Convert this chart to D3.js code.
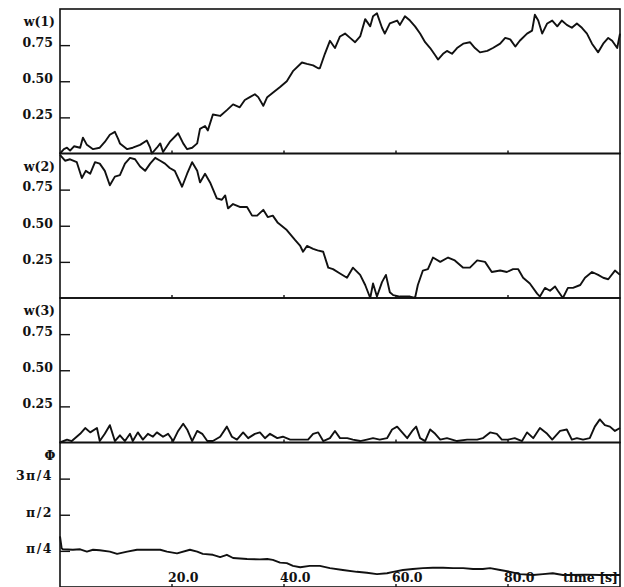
<!DOCTYPE html>
<meta charset="utf-8">
<style>
body { margin: 0; background: #fff; }
text { font: bold 12.5px "DejaVu Serif", serif; fill: #111; }
.frame { fill: none; stroke: #111; stroke-width: 1.6; }
.trace { fill: none; stroke: #111; stroke-width: 1.9; stroke-linejoin: round; }
.axis line { stroke: #111; stroke-width: 1.4; }
.axis path { display: none; }
.pi text { letter-spacing: 1.5px; }
</style>
<svg width="624" height="587"></svg>
<script src="https://d3js.org/d3.v7.min.js"></script>
<script>

// time [s], value
var w1 = [[0,0.0],[0.7,0.03],[1.25,0.04],[1.8,0.02],[2.5,0.05],[3.6,0.04],[4.1,0.11],[4.8,0.06],[5.9,0.03],
  [7.1,0.04],[8.0,0.08],[8.9,0.13],[9.8,0.15],[10.4,0.1],[10.7,0.07],[12.0,0.03],[13.0,0.04],[14.3,0.06],
  [15.5,0.09],[16.1,0.04],[16.4,0.0],[17.3,0.04],[17.9,0.07],[18.4,0.01],[19.6,0.08],[21.1,0.14],[22.0,0.07],
  [22.7,0.03],[23.6,0.04],[24.5,0.07],[25.0,0.17],[25.9,0.19],[26.4,0.16],[27.3,0.27],[28.6,0.26],[29.8,0.30],
  [30.9,0.34],[32.1,0.32],[33.0,0.37],[33.9,0.39],[34.8,0.41],[35.4,0.39],[36.3,0.33],[37.0,0.39],[38.0,0.42],
  [39.3,0.46],[40.5,0.50],[41.6,0.57],[43.2,0.63],[44.1,0.62],[45.2,0.61],[46.1,0.59],[46.4,0.59],[47.3,0.69],
  [48.2,0.78],[49.1,0.73],[50.0,0.81],[50.9,0.83],[51.8,0.80],[52.7,0.77],[53.6,0.81],[54.5,0.93],[55.4,0.88],
  [55.9,0.95],[56.6,0.97],[57.5,0.87],[58.0,0.83],[58.9,0.90],[60.2,0.92],[60.7,0.89],[61.6,0.95],[62.5,0.92],
  [63.4,0.88],[64.3,0.83],[65.2,0.77],[66.1,0.73],[67.0,0.68],[67.5,0.65],[68.4,0.69],[69.1,0.71],[70.0,0.69],
  [70.9,0.73],[72.0,0.76],[73.2,0.77],[74.1,0.73],[75.0,0.70],[76.3,0.71],[77.3,0.73],[78.6,0.76],[79.5,0.80],
  [80.4,0.79],[81.3,0.74],[82.1,0.78],[83.4,0.83],[84.3,0.85],[84.8,0.96],[85.4,0.92],[86.1,0.83],[87.0,0.90],
  [87.9,0.92],[88.8,0.88],[89.6,0.92],[90.5,0.89],[91.4,0.87],[92.3,0.90],[93.2,0.87],[94.1,0.83],[95.0,0.76],
  [96.1,0.70],[97.0,0.76],[97.9,0.80],[98.6,0.78],[99.5,0.73],[100,0.83]]

var w2 = [[0,0.99],[0.9,0.95],[1.8,0.96],[3.0,0.94],[3.9,0.83],[4.6,0.88],[5.4,0.86],[6.25,0.94],[7.1,0.93],
  [8.0,0.88],[8.9,0.78],[9.8,0.84],[10.7,0.85],[11.6,0.93],[12.5,0.97],[13.4,0.96],[14.3,0.91],[15.2,0.88],
  [16.1,0.93],[17.0,0.97],[17.9,0.95],[18.75,0.93],[19.6,0.90],[20.5,0.88],[21.8,0.77],[22.7,0.86],[23.6,0.94],
  [24.5,0.88],[25.0,0.80],[25.9,0.86],[26.8,0.80],[28.0,0.69],[28.9,0.68],[29.5,0.71],[30.0,0.62],[30.9,0.65],
  [32.1,0.63],[33.4,0.63],[34.3,0.57],[35.2,0.57],[36.3,0.61],[37.1,0.56],[38.0,0.57],[38.9,0.52],[40.5,0.47],
  [42.0,0.40],[42.9,0.36],[43.4,0.32],[44.1,0.36],[45.2,0.34],[46.0,0.33],[47.0,0.32],[47.9,0.21],[48.75,0.20],
  [50.0,0.17],[51.25,0.14],[52.3,0.21],[53.6,0.16],[54.5,0.09],[55.4,0.0],[55.9,0.10],[56.6,0.01],[57.5,0.11],
  [58.2,0.16],[58.9,0.04],[59.5,0.02],[60.7,0.01],[62.5,0.01],[63.4,0.0],[63.9,0.09],[64.8,0.19],[65.7,0.20],
  [66.6,0.28],[67.9,0.25],[69.3,0.28],[70.5,0.26],[72.0,0.21],[73.2,0.21],[74.5,0.26],[75.9,0.25],[77.1,0.18],
  [78.6,0.19],[79.8,0.18],[80.9,0.20],[81.8,0.20],[82.7,0.14],[83.9,0.10],[85.2,0.03],[85.7,0.01],[86.6,0.07],
  [87.5,0.05],[88.4,0.08],[88.9,0.05],[89.8,0.0],[90.7,0.07],[91.6,0.07],[92.9,0.09],[93.75,0.14],[95.0,0.18],
  [96.1,0.16],[97.0,0.14],[97.9,0.13],[99.1,0.19],[100,0.16]]

var w3 = [[0,0.0],[1.25,0.02],[2.1,0.01],[3.6,0.06],[4.5,0.10],[5.4,0.07],[6.6,0.10],[7.1,0.01],[8.0,0.06],
  [8.9,0.12],[9.8,0.01],[10.7,0.05],[11.6,0.01],[12.5,0.06],[13.0,0.01],[13.9,0.07],[14.8,0.02],[15.7,0.06],
  [16.6,0.04],[17.3,0.07],[18.4,0.04],[19.3,0.06],[20.2,0.01],[21.1,0.08],[22.0,0.13],[22.7,0.09],[23.6,0.01],
  [24.5,0.08],[25.4,0.06],[26.3,0.01],[27.3,0.01],[28.6,0.04],[29.8,0.11],[30.7,0.04],[31.6,0.02],[32.7,0.07],
  [33.6,0.03],[34.8,0.06],[35.7,0.07],[36.6,0.03],[37.5,0.06],[38.8,0.03],[39.8,0.04],[41.1,0.02],[42.3,0.02],
  [43.2,0.02],[44.3,0.02],[45.2,0.06],[46.1,0.07],[47.0,0.01],[48.2,0.03],[49.1,0.08],[50.0,0.03],[51.3,0.03],
  [52.3,0.02],[53.6,0.01],[54.8,0.02],[55.9,0.03],[57.1,0.02],[58.4,0.03],[59.3,0.09],[60.2,0.11],[61.1,0.07],
  [62.0,0.03],[62.9,0.08],[63.6,0.11],[64.3,0.03],[65.2,0.01],[66.1,0.09],[67.0,0.06],[67.9,0.02],[69.1,0.03],
  [70.9,0.01],[72.7,0.02],[74.5,0.02],[75.5,0.03],[76.8,0.07],[78.0,0.06],[78.9,0.02],[80.0,0.02],[81.2,0.03],
  [82.5,0.01],[83.4,0.07],[84.5,0.03],[85.7,0.10],[87.0,0.06],[87.9,0.02],[89.3,0.08],[90.5,0.09],[91.4,0.02],
  [92.3,0.03],[93.4,0.02],[94.6,0.03],[95.5,0.11],[96.4,0.16],[97.3,0.12],[98.2,0.11],[99.1,0.08],[100,0.10]]

var phi = [[0,1.10],[0.3,0.84],[0.5,0.82],[2.3,0.81],[3.6,0.82],[4.8,0.77],[5.9,0.81],[7.1,0.80],[8.9,0.77],
  [10.2,0.72],[12.0,0.77],[13.75,0.81],[15.5,0.81],[17.9,0.81],[19.1,0.77],[20.9,0.73],[23.2,0.81],[24.5,0.77],
  [25.5,0.72],[27.3,0.70],[28.6,0.65],[29.8,0.70],[30.9,0.63],[33.4,0.61],[35.7,0.60],[37.0,0.61],[38.0,0.59],
  [39.3,0.53],[40.5,0.52],[41.6,0.46],[42.9,0.43],[44.6,0.46],[46.4,0.46],[48.2,0.41],[50.5,0.37],[53.0,0.33],
  [54.8,0.31],[56.6,0.28],[58.4,0.30],[59.5,0.33],[61.25,0.37],[63.0,0.39],[64.8,0.41],[66.6,0.42],[68.4,0.42],
  [70.2,0.41],[72.0,0.41],[73.75,0.39],[75.5,0.39],[76.8,0.41],[78.6,0.37],[80.4,0.33],[82.1,0.28],[84.5,0.26],
  [86.25,0.28],[88.0,0.30],[89.8,0.26],[91.1,0.26],[93.75,0.27],[96.4,0.26],[100,0.26]]

var timeTicks = [20, 40, 60, 80]
var wTicks = [0.25, 0.5, 0.75]
var phiTicks = [Math.PI/4, Math.PI/2, 3*Math.PI/4]
var phiTickLabels = ["\u03c0/4", "\u03c0/2", "3\u03c0/4"]

var panels = [
  {name: "w(1)", data: w1, max: 1, ticks: wTicks, fmt: d3.format(".2f")},
  {name: "w(2)", data: w2, max: 1, ticks: wTicks, fmt: d3.format(".2f")},
  {name: "w(3)", data: w3, max: 1, ticks: wTicks, fmt: d3.format(".2f")},
  {name: "\u03a6", data: phi, max: Math.PI, ticks: phiTicks, fmt: function(d, i){ return phiTickLabels[i] }}
]

var svg = d3.select("svg")
var plotL = 60, plotR = 620, plotT = 9, ph = 144.5

var x = d3.scaleLinear().domain([0, 100]).range([plotL, plotR])

panels.forEach(function(p, i){
  var y0 = plotT + i*ph
  var y = d3.scaleLinear().domain([0, p.max]).range([y0 + ph, y0])
  var g = svg.append("g")

  // ticks inward + labels
  var ax = g.append("g").attr("class", i == 3 ? "axis pi" : "axis")
    .attr("transform", "translate(" + plotL + ",0)")
    .call(d3.axisLeft(y).tickValues(p.ticks).tickSize(-10).tickPadding(7).tickFormat(p.fmt))
  ax.attr("font-family", null).attr("font-size", null)
  ax.selectAll("text").attr("dy", "0.1em")

  // small time ticks on each panel's bottom edge
  g.selectAll(".tt").data(timeTicks).enter().append("line")
    .attr("x1", function(d){ return x(d) }).attr("x2", function(d){ return x(d) })
    .attr("y1", y0 + ph).attr("y2", y0 + ph - 3)
    .attr("stroke", "#111").attr("stroke-width", 1.4)

  g.append("path").datum(p.data).attr("class", "trace")
    .attr("d", d3.line().x(function(d){ return x(d[0]) }).y(function(d){ return y(d[1]) }))

  g.append("rect").attr("class", "frame")
    .attr("x", plotL).attr("y", y0).attr("width", plotR - plotL).attr("height", ph)

  g.append("text").attr("x", i == 3 ? 50 : 55).attr("y", y0 + 17)
    .attr("text-anchor", i == 3 ? "middle" : "end").text(p.name)
})

// time labels at the bottom
svg.selectAll(".xl").data(timeTicks).enter().append("text")
  .attr("x", function(d){ return x(d) - 4 }).attr("y", 582)
  .text(function(d){ return d3.format(".1f")(d) })

svg.append("text").attr("x", 618).attr("y", 582).attr("text-anchor", "end").text("time [s]")

</script>
